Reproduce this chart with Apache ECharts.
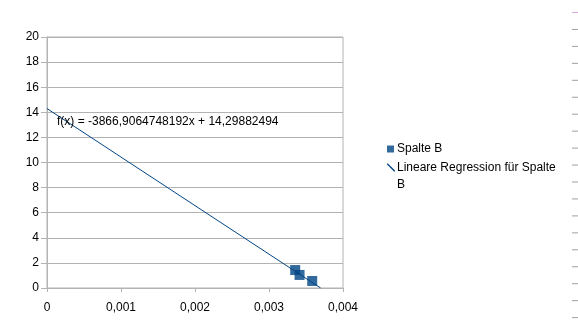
<!DOCTYPE html>
<html>
<head>
<meta charset="utf-8">
<script src="https://cdn.jsdelivr.net/npm/echarts@6/dist/echarts.min.js"></script>
<style>html,body{margin:0;padding:0;background:#fff;}#c{width:578px;height:327px;}</style>
</head>
<body>
<div id="c"></div>
<script>
var xValues = [0.003354, 0.003413, 0.003584];
var yValues = [1.43, 1.04, 0.56];
var regSlope = -3866.9064748192;
var regIntercept = 14.29882494;
var regXRange = [0, -14.29882494 / -3866.9064748192];
var yTicks = [0, 2, 4, 6, 8, 10, 12, 14, 16, 18, 20];
var xTicks = [0, 0.001, 0.002, 0.003, 0.004];
var seriesNames = ['Spalte B', 'Lineare Regression für Spalte B'];
var equationText = 'f(x) = -3866,9064748192x + 14,29882494';

var FONT = 'Liberation Sans, Arial, sans-serif';
var GRAY = '#b3b3b3';
var BLUE = '#004586';

var scatterData = xValues.map(function (x, i) { return [x, yValues[i]]; });
var lineData = regXRange.map(function (x) { return [x, regSlope * x + regIntercept]; });

var dashes = [];
for (var k = 0; k < 19; k++) {
  dashes.push({
    type: 'line',
    shape: { x1: 572, y1: 12.5 + k * 16.95, x2: 578, y2: 12.5 + k * 16.95 },
    style: { stroke: k === 0 ? '#d8a8d8' : '#a0a0a0', lineWidth: 1 },
    silent: true
  });
}

var chart = echarts.init(document.getElementById('c'), null, { renderer: 'canvas' });
chart.setOption({
  animation: false,
  backgroundColor: '#fff',
  textStyle: { fontFamily: FONT },
  grid: { left: 47, top: 37, width: 296, height: 251, show: true, borderColor: GRAY, borderWidth: 1, backgroundColor: 'transparent' },
  xAxis: {
    type: 'value', min: xTicks[0], max: xTicks[xTicks.length - 1], interval: 0.001,
    axisLine: { lineStyle: { color: GRAY } },
    axisTick: { show: true, length: 4, lineStyle: { color: GRAY } },
    splitLine: { show: false },
    axisLabel: { color: '#000', fontSize: 12, fontFamily: FONT, margin: 14,
      formatter: function (v) { return String(+v.toFixed(3)).replace('.', ','); } }
  },
  yAxis: {
    type: 'value', min: yTicks[0], max: yTicks[yTicks.length - 1], interval: 2,
    axisLine: { show: true, lineStyle: { color: GRAY } },
    axisTick: { show: true, length: 6, lineStyle: { color: GRAY } },
    splitLine: { show: true, lineStyle: { color: GRAY } },
    axisLabel: { color: '#000', fontSize: 12, fontFamily: FONT, margin: 8 }
  },
  legend: [
    {
      data: [{ name: seriesNames[0], icon: 'rect' }],
      left: 382, top: 138, orient: 'vertical', itemWidth: 7, itemHeight: 7, itemGap: 0,
      textStyle: { color: '#000', fontSize: 12, fontFamily: FONT, padding: [0, 0, 0, -2] }
    },
    {
      data: [{ name: seriesNames[1], icon: 'path://M0,0L1.2,0L10,8.8L10,10L8.8,10L0,1.2Z' }],
      left: 382, top: 137, orient: 'vertical', itemWidth: 8, itemHeight: 9, itemGap: 0,
      formatter: function () { return ' \nLineare Regression für Spalte\nB'; },
      textStyle: { color: '#000', fontSize: 12, fontFamily: FONT, lineHeight: 17, padding: [0, 0, 0, -3] }
    }
  ],
  series: [
    {
      name: seriesNames[0], type: 'scatter', data: scatterData,
      symbol: 'rect', symbolSize: 10, itemStyle: { color: BLUE }, z: 3
    },
    {
      name: seriesNames[1], type: 'line', data: lineData,
      showSymbol: false, symbol: 'none', lineStyle: { color: BLUE, width: 1 }, itemStyle: { color: BLUE }, z: 2
    }
  ],
  graphic: [
    { type: 'text', left: 57, top: 116, style: { text: equationText, fill: '#000', font: '12px ' + FONT }, z: 10 }
  ].concat(dashes)
});
</script>
</body>
</html>
